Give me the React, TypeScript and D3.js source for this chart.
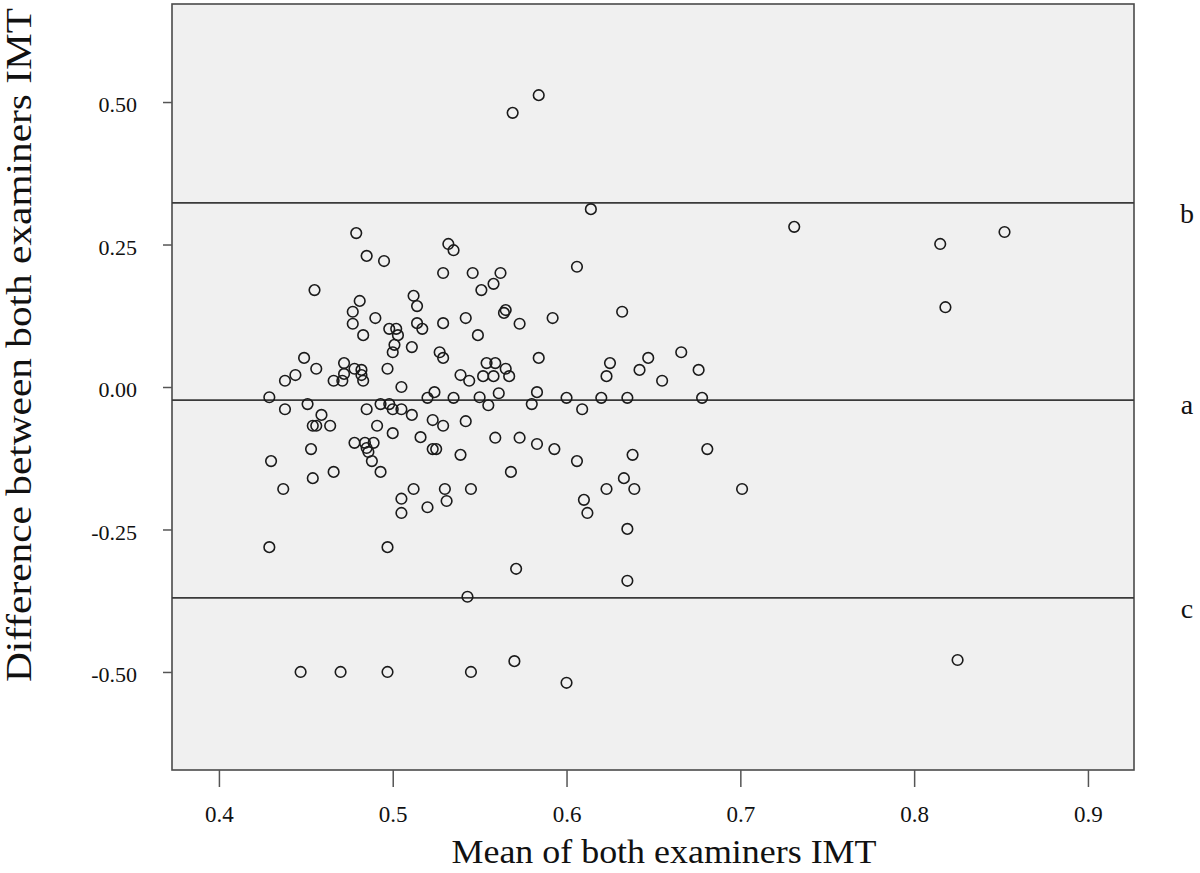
import React, { useEffect, useRef } from 'react';
import * as d3 from 'd3';

// Mean of both examiners IMT (x) and their difference (y)
const meanIMT = [
    0.479, 0.485, 0.495, 0.532, 0.535, 0.529, 0.455, 0.481, 0.512, 0.514,
    0.477, 0.584, 0.569, 0.614, 0.606, 0.546, 0.562, 0.558, 0.551, 0.565,
    0.632, 0.490, 0.477, 0.529, 0.514, 0.517, 0.483, 0.498, 0.502, 0.503,
    0.501, 0.500, 0.511, 0.527, 0.529, 0.449, 0.444, 0.438, 0.456, 0.472,
    0.478, 0.482, 0.466, 0.471, 0.472, 0.483, 0.482, 0.497, 0.505, 0.524,
    0.520, 0.429, 0.451, 0.438, 0.485, 0.493, 0.498, 0.500, 0.505, 0.511,
    0.459, 0.454, 0.456, 0.464, 0.491, 0.523, 0.529, 0.500, 0.516, 0.478,
    0.484, 0.489, 0.485, 0.486, 0.523, 0.525, 0.453, 0.430, 0.488, 0.466,
    0.493, 0.454, 0.437, 0.512, 0.530, 0.505, 0.505, 0.520, 0.531, 0.429,
    0.497, 0.447, 0.470, 0.497, 0.542, 0.564, 0.573, 0.592, 0.549, 0.584,
    0.554, 0.559, 0.565, 0.567, 0.558, 0.552, 0.539, 0.544, 0.625, 0.623,
    0.642, 0.561, 0.583, 0.535, 0.550, 0.555, 0.580, 0.600, 0.609, 0.620,
    0.635, 0.542, 0.559, 0.573, 0.583, 0.593, 0.606, 0.638, 0.539, 0.568,
    0.633, 0.545, 0.623, 0.639, 0.610, 0.612, 0.635, 0.571, 0.635, 0.543,
    0.545, 0.570, 0.600, 0.647, 0.655, 0.666, 0.676, 0.678, 0.681, 0.701,
    0.731, 0.815, 0.852, 0.818, 0.825
];
const diffIMT = [
    0.270, 0.230, 0.221, 0.251, 0.240, 0.200, 0.170, 0.151, 0.160, 0.142,
    0.132, 0.512, 0.481, 0.312, 0.211, 0.200, 0.200, 0.181, 0.170, 0.135,
    0.132, 0.121, 0.111, 0.112, 0.112, 0.102, 0.091, 0.102, 0.102, 0.091,
    0.074, 0.061, 0.070, 0.061, 0.051, 0.051, 0.021, 0.011, 0.032, 0.042,
    0.032, 0.030, 0.011, 0.011, 0.023, 0.011, 0.021, 0.032, 0.000, -0.009,
    -0.019, -0.018, -0.030, -0.039, -0.039, -0.030, -0.030, -0.039, -0.039, -0.049,
    -0.049, -0.068, -0.068, -0.068, -0.068, -0.058, -0.068, -0.081, -0.088, -0.098,
    -0.098, -0.098, -0.107, -0.114, -0.109, -0.109, -0.109, -0.130, -0.130, -0.149,
    -0.149, -0.160, -0.179, -0.179, -0.179, -0.196, -0.221, -0.211, -0.200, -0.281,
    -0.281, -0.500, -0.500, -0.500, 0.121, 0.130, 0.111, 0.121, 0.091, 0.051,
    0.042, 0.042, 0.032, 0.019, 0.019, 0.019, 0.021, 0.011, 0.042, 0.019,
    0.030, -0.011, -0.009, -0.019, -0.018, -0.032, -0.030, -0.019, -0.039, -0.019,
    -0.019, -0.060, -0.089, -0.089, -0.100, -0.109, -0.130, -0.119, -0.119, -0.149,
    -0.160, -0.179, -0.179, -0.179, -0.198, -0.221, -0.249, -0.319, -0.340, -0.368,
    -0.500, -0.481, -0.519, 0.051, 0.011, 0.061, 0.030, -0.019, -0.109, -0.179,
    0.281, 0.251, 0.272, 0.140, -0.479
];

const xTicks = [0.4, 0.5, 0.6, 0.7, 0.8, 0.9];
const yTicks = [0.5, 0.25, 0, -0.25, -0.5];

// limits of agreement: b = upper, a = mean difference, c = lower
const refValues = [0.323, -0.023, -0.370];
const refLabels = ['b', 'a', 'c'];

const WIDTH = 1200;
const HEIGHT = 873;

const App: React.FC = () => {
    const svgRef = useRef<SVGSVGElement>(null);

    useEffect(() => {
        const svg = d3.select(svgRef.current);
        svg.selectAll('*').remove();

        const left = 172, right = 1134, top = 4, bottom = 770;
        const font = '"Liberation Serif", "Times New Roman", serif';
        // SPSS style: plain hyphen for negatives
        const fmt2 = (d: number) => d3.format('.2f')(d).replace('\u2212', '-');

        const x = d3.scaleLinear().domain([0.373, 0.9265]).range([left, right]);
        const y = d3.scaleLinear().domain([-0.672, 0.672]).range([bottom, top]);

        // plot background
        svg.append('rect')
            .attr('x', left)
            .attr('y', top)
            .attr('width', right - left)
            .attr('height', bottom - top)
            .attr('fill', '#f0f0f0')
            .attr('stroke', '#4a4a4a')
            .attr('stroke-width', 1.6);

        // reference lines
        svg.selectAll('.ref')
            .data(refValues)
            .enter()
            .append('line')
            .attr('class', 'ref')
            .attr('x1', left)
            .attr('x2', right)
            .attr('y1', d => y(d))
            .attr('y2', d => y(d))
            .attr('stroke', '#3a3a3a')
            .attr('stroke-width', 1.6);

        // points
        const pts = meanIMT.map((m, i) => ({ m, d: diffIMT[i] }));
        svg.selectAll('.pt')
            .data(pts)
            .enter()
            .append('circle')
            .attr('class', 'pt')
            .attr('cx', p => x(p.m))
            .attr('cy', p => y(p.d))
            .attr('r', 5.3)
            .attr('fill', 'none')
            .attr('stroke', '#1a1a1a')
            .attr('stroke-width', 1.6);

        // x axis
        const xAxis = svg.append('g')
            .attr('transform', `translate(0,${bottom})`)
            .call(d3.axisBottom(x).tickValues(xTicks).tickSize(17).tickPadding(19).tickFormat(d3.format('.1f')));
        xAxis.select('.domain').remove();
        xAxis.selectAll('line').attr('stroke', '#555').attr('stroke-width', 1.5);
        xAxis.selectAll('text')
            .style('font-family', font)
            .style('font-size', '23px')
            .attr('fill', '#111');

        // y axis
        const yAxis = svg.append('g')
            .attr('transform', `translate(${left},0)`)
            .call(d3.axisLeft(y).tickValues(yTicks).tickSize(9).tickPadding(26).tickFormat(fmt2));
        yAxis.select('.domain').remove();
        yAxis.selectAll('line').attr('stroke', '#555').attr('stroke-width', 1.5);
        yAxis.selectAll('text')
            .attr('dy', '0.45em')
            .style('font-family', font)
            .style('font-size', '22px')
            .attr('fill', '#111');

        // axis titles
        svg.append('text')
            .attr('x', 664)
            .attr('y', 863)
            .attr('text-anchor', 'middle')
            .attr('textLength', 425)
            .attr('lengthAdjust', 'spacingAndGlyphs')
            .style('font-family', font)
            .style('font-size', '34px')
            .attr('fill', '#111')
            .text('Mean of both examiners IMT');

        svg.append('text')
            .attr('transform', `translate(31,345) rotate(-90)`)
            .attr('text-anchor', 'middle')
            .attr('textLength', 674)
            .attr('lengthAdjust', 'spacingAndGlyphs')
            .style('font-family', font)
            .style('font-size', '35px')
            .attr('fill', '#111')
            .text('Difference between both examiners IMT');

        // b / a / c markers on the right
        svg.selectAll('.ref-label')
            .data(refValues)
            .enter()
            .append('text')
            .attr('class', 'ref-label')
            .attr('x', 1187)
            .attr('y', (d, i) => y(d) + [20, 14, 20][i])
            .attr('text-anchor', 'middle')
            .style('font-family', font)
            .style('font-size', '28px')
            .attr('fill', '#111')
            .text((d, i) => refLabels[i]);
    }, []);

    return (
        <svg
            ref={svgRef}
            width={WIDTH}
            height={HEIGHT}
            style={{ position: 'absolute', left: 0, top: 0, background: '#fff' }}
        />
    );
};

export default App;
